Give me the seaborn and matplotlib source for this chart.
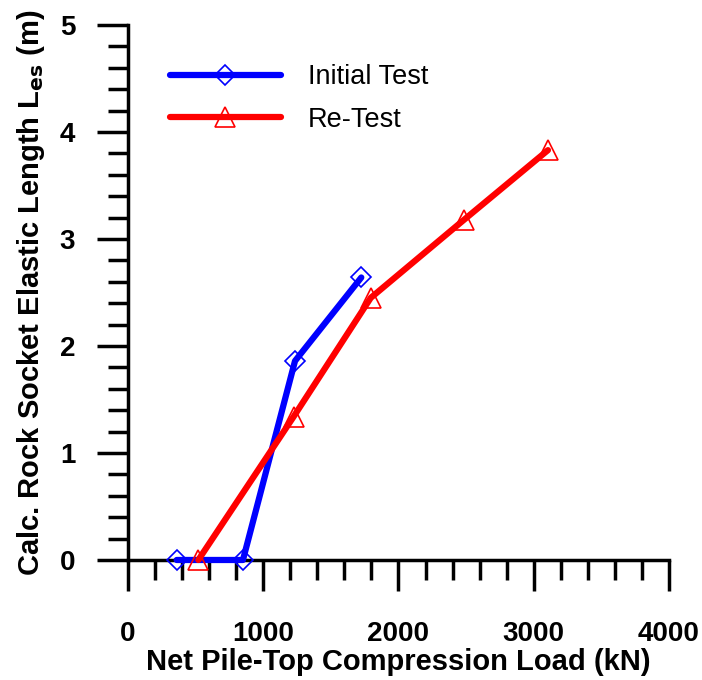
import matplotlib
matplotlib.use("Agg")
import matplotlib.pyplot as plt
import seaborn as sns
import pandas as pd
from matplotlib.ticker import MultipleLocator

initial_load = [360, 850, 1235, 1725]
initial_len = [0.0, 0.0, 1.86, 2.64]
retest_load = [520, 1225, 1795, 2485, 3105]
retest_len = [0.0, 1.34, 2.45, 3.18, 3.83]
series_names = ["Initial Test", "Re-Test"]
x_ticks = [0, 1000, 2000, 3000, 4000]
y_ticks = [0, 1, 2, 3, 4, 5]

sns.set_style("white")
plt.rcParams['font.family'] = ['Liberation Sans', 'DejaVu Sans']
plt.rcParams['text.color'] = 'black'
plt.rcParams['axes.labelcolor'] = 'black'

fig = plt.figure(figsize=(7.02, 6.80), dpi=100)
ax = fig.add_axes([0.1823, 0.1765, 0.7707, 0.7868])

df1 = pd.DataFrame({"x": initial_load, "y": initial_len})
df2 = pd.DataFrame({"x": retest_load, "y": retest_len})

sns.lineplot(data=df1, x="x", y="y", ax=ax, color="#0000ff", lw=4.5,
             marker="D", markersize=10, markerfacecolor="none",
             markeredgecolor="#0000ff", markeredgewidth=1.2,
             label=series_names[0], sort=False, solid_capstyle="round",
             clip_on=False, zorder=3)
sns.lineplot(data=df2, x="x", y="y", ax=ax, color="#ff0000", lw=4.5,
             marker="^", markersize=14, markerfacecolor="none",
             markeredgecolor="#ff0000", markeredgewidth=1.2,
             label=series_names[1], sort=False, solid_capstyle="round",
             clip_on=False, zorder=3)

ax.set_xlim(0, 4000)
ax.set_ylim(0, 5)
ax.set_xticks(x_ticks)
ax.set_yticks(y_ticks)
ax.xaxis.set_minor_locator(MultipleLocator(200))
ax.yaxis.set_minor_locator(MultipleLocator(0.2))

for s in ["top", "right"]:
    ax.spines[s].set_visible(False)
for s in ["left", "bottom"]:
    ax.spines[s].set_linewidth(2.5)
    ax.spines[s].set_color("black")
    ax.spines[s].set_zorder(2)

ax.tick_params(axis="both", which="both", bottom=True, left=True, top=False, right=False)
ax.tick_params(axis="both", which="major", direction="out", length=22, width=2.5,
               colors="black", labelsize=20)
ax.tick_params(axis="both", which="minor", direction="out", length=14.5, width=2.5,
               colors="black")
ax.tick_params(axis="x", which="major", pad=22)
ax.tick_params(axis="y", which="major", pad=16)
for lab in ax.get_xticklabels() + ax.get_yticklabels():
    lab.set_fontweight("bold")

ax.set_xlabel("Net Pile-Top Compression Load (kN)", fontsize=21, fontweight="bold", labelpad=1)
ax.set_ylabel("Calc. Rock Socket Elastic Length L$_{\\mathbf{es}}$ (m)", fontsize=21,
              fontweight="bold", labelpad=9)

leg = ax.legend(loc="upper left", bbox_to_anchor=(0.0575, 0.947), frameon=False,
                fontsize=19.5, handlelength=4.1, handletextpad=1.0, labelspacing=0.62,
                borderaxespad=0)

ax.grid(False)
fig.savefig("out.png", dpi=100)
